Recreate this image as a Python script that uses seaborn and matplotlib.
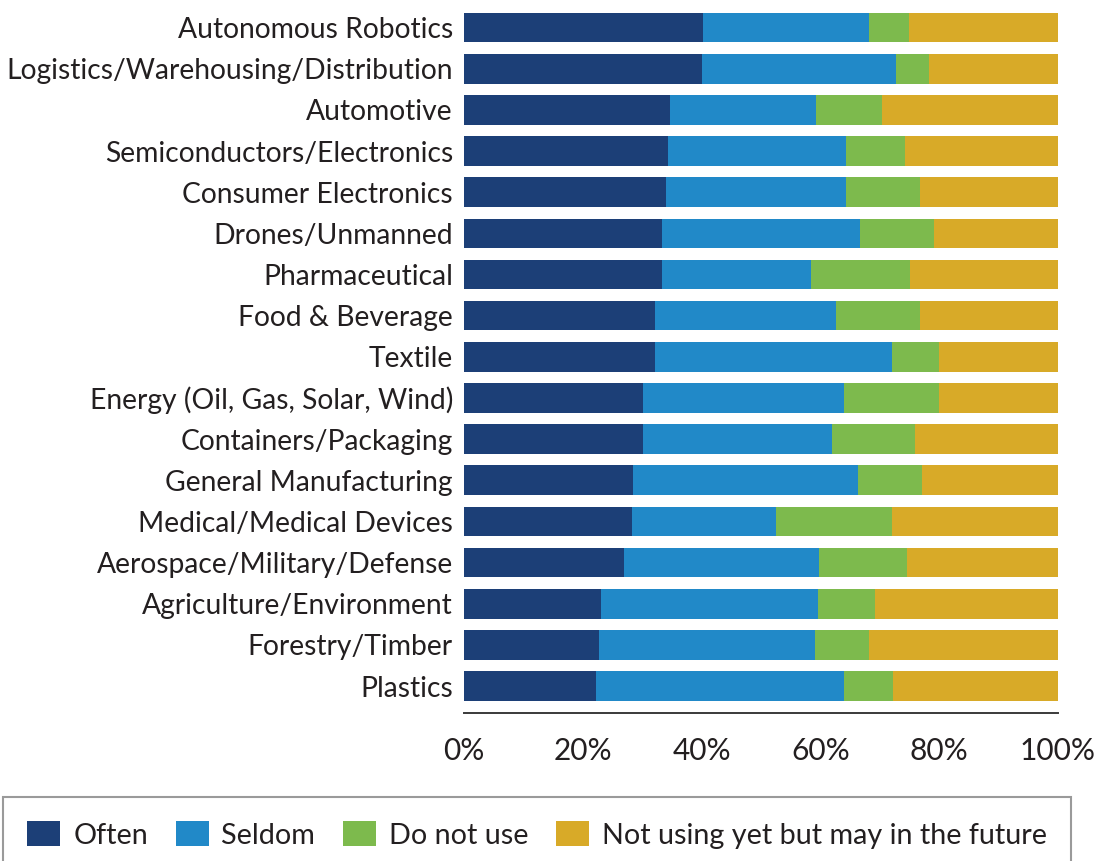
import matplotlib
matplotlib.use("Agg")
import matplotlib.pyplot as plt
from matplotlib.patches import Patch
import numpy as np
import pandas as pd
import seaborn as sns

categories = [
    "Autonomous Robotics",
    "Logistics/Warehousing/Distribution",
    "Automotive",
    "Semiconductors/Electronics",
    "Consumer Electronics",
    "Drones/Unmanned",
    "Pharmaceutical",
    "Food & Beverage",
    "Textile",
    "Energy (Oil, Gas, Solar, Wind)",
    "Containers/Packaging",
    "General Manufacturing",
    "Medical/Medical Devices",
    "Aerospace/Military/Defense",
    "Agriculture/Environment",
    "Forestry/Timber",
    "Plastics",
]

often = [40.3, 40.1, 34.6, 34.4, 34.0, 33.4, 33.4, 32.2, 32.1, 30.1, 30.1, 28.5, 28.2, 26.9, 23.1, 22.8, 22.3]
seldom = [27.8, 32.7, 24.7, 29.9, 30.3, 33.3, 25.0, 30.4, 39.9, 33.9, 31.9, 37.8, 24.3, 32.9, 36.5, 36.3, 41.6]
do_not_use = [6.8, 5.5, 11.1, 10.0, 12.5, 12.5, 16.6, 14.2, 8.0, 16.0, 14.0, 10.8, 19.5, 14.7, 9.6, 9.1, 8.3]
future = [25.1, 21.7, 29.6, 25.7, 23.2, 20.8, 25.0, 23.2, 20.0, 20.0, 24.0, 22.9, 28.0, 25.5, 30.8, 31.8, 27.8]

series_names = ["Often", "Seldom", "Do not use", "Not using yet but may in the future"]
series_colors = ["#1c3f77", "#2189c8", "#7dba4d", "#d8aa28"]
tick_values = [0, 20, 40, 60, 80, 100]
tick_labels = ["0%", "20%", "40%", "60%", "80%", "100%"]

df = pd.DataFrame({
    "category": categories,
    "Often": often,
    "Seldom": seldom,
    "Do not use": do_not_use,
    "Not using yet but may in the future": future,
})
# running totals so each layer can be drawn over the longer one behind it
cum = df[series_names].cumsum(axis=1)

sns.set_style("white")
plt.rcParams["font.family"] = ["Lato", "DejaVu Sans"]
text_color = "#231f20"

fig = plt.figure(figsize=(10.96, 8.61), dpi=100)
ax = fig.add_axes([464 / 1096, 1 - 713 / 861, 594 / 1096, (713 - 7) / 861])

for name, color in reversed(list(zip(series_names, series_colors))):
    sns.barplot(
        x=cum[name], y=df["category"], orient="h", color=color,
        saturation=1, width=0.72, linewidth=0, ax=ax,
    )

ax.set_xlim(0, 100)
ax.set_ylim(16 + 27 / 41.16, -0.5)
ax.set_xlabel("")
ax.set_ylabel("")
ax.set_xticks(tick_values)
ax.set_xticklabels(tick_labels)

for side in ["top", "right", "left"]:
    ax.spines[side].set_visible(False)
ax.spines["bottom"].set_color("#3a3a3a")
ax.spines["bottom"].set_linewidth(1.4)

ax.tick_params(axis="x", direction="in", length=10, width=1.4, color="#3a3a3a",
               labelsize=21.5, labelcolor=text_color, pad=17)
ax.tick_params(axis="y", length=0, labelsize=20.3, labelcolor=text_color, pad=8)

handles = [Patch(facecolor=c, edgecolor="none") for c in series_colors]
leg = fig.legend(
    handles, series_names, loc="upper left",
    bbox_to_anchor=(3 / 1096, 1 - 797 / 861), ncol=4,
    fontsize=20.7, frameon=True, fancybox=False, framealpha=1,
    handlelength=1.15, handleheight=0.95, handletextpad=0.45,
    columnspacing=0.95, borderpad=0.85, borderaxespad=0,
)
leg.get_frame().set_edgecolor("#9a9a9a")
leg.get_frame().set_linewidth(1.5)
for t in leg.get_texts():
    t.set_color(text_color)

fig.savefig("out.png", dpi=100)
